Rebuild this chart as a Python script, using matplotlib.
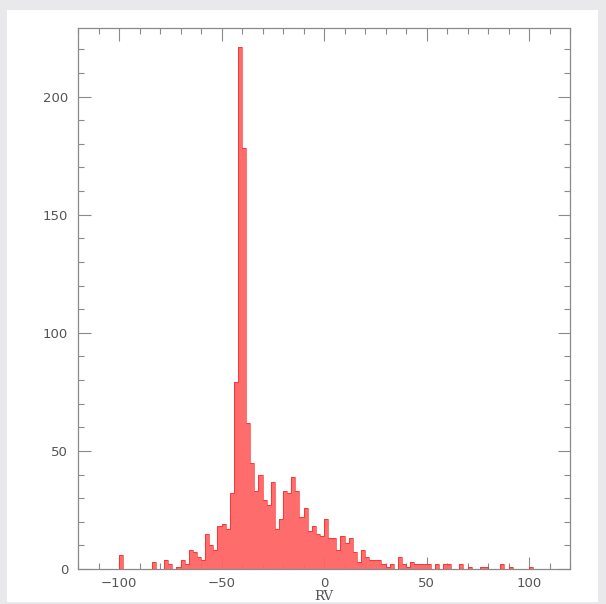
import numpy as np
import matplotlib.pyplot as plt
from matplotlib.patches import Rectangle
from matplotlib.ticker import MultipleLocator

# Histogram of RV, bins of width 2 starting at -100
bin_start = -100
bin_width = 2
counts = [
    6, 0, 0, 0, 0, 0, 0, 0, 3, 0,        # -100 .. -82
    0, 4, 2, 0, 1, 4, 2, 8, 7, 5,        # -80 .. -62
    4, 15, 10, 8, 18, 19, 17, 32, 79, 221,  # -60 .. -42
    178, 62, 45, 33, 40, 29, 27, 37, 17, 21,  # -40 .. -22
    33, 32, 39, 33, 22, 26, 16, 18, 15, 14,   # -20 .. -2
    21, 13, 13, 8, 14, 11, 13, 7, 3, 8,       # 0 .. 18
    5, 4, 4, 4, 2, 1, 2, 0, 5, 2,             # 20 .. 38
    1, 3, 2, 2, 2, 2, 0, 2, 0, 2,             # 40 .. 58
    2, 0, 0, 2, 0, 1, 0, 0, 1, 1,             # 60 .. 78
    0, 0, 0, 2, 0, 1, 0, 0, 0, 0,             # 80 .. 98
    1,                                        # 100
]
edges = bin_start + bin_width * np.arange(len(counts) + 1)

x_major = [-100, -50, 0, 50, 100]
y_major = [0, 50, 100, 150, 200]

fig = plt.figure(figsize=(6.06, 6.04), dpi=100)
fig.patch.set_facecolor('#e9e9eb')
# white panel behind the plot
fig.patches.append(Rectangle((7 / 606, 2 / 604), 591 / 606, 592 / 604,
                             transform=fig.transFigure, facecolor='white',
                             edgecolor='none', zorder=-5))

ax = fig.add_axes([78 / 606, 1 - 569 / 604, 492 / 606, 541 / 604])
ax.set_facecolor('white')

ax.stairs(counts, edges, fill=True, color='#ff6464', alpha=0.95, zorder=2)
ax.stairs(counts, edges, color='#ff1010', linewidth=0.7, alpha=0.6, zorder=3)

ax.set_xlim(-120, 120)
ax.set_ylim(0, 229)

ax.set_xticks(x_major)
ax.set_yticks(y_major)
ax.xaxis.set_minor_locator(MultipleLocator(10))
ax.yaxis.set_minor_locator(MultipleLocator(10))

grey = '#8a8a8a'
ax.tick_params(which='both', direction='in', top=True, right=True,
               color=grey, width=0.8, labelcolor='#555555', labelsize=9.5)
ax.tick_params(which='major', length=9)
ax.tick_params(which='minor', length=4.5)
ax.tick_params(axis='x', pad=6)
ax.tick_params(axis='y', pad=7)
for s in ax.spines.values():
    s.set_color(grey)
    s.set_linewidth(0.9)

ax.set_xlabel('RV', family='DejaVu Serif', fontsize=9.5, color='#555555', labelpad=0)

fig.savefig('out.png', dpi=100, facecolor=fig.get_facecolor())
